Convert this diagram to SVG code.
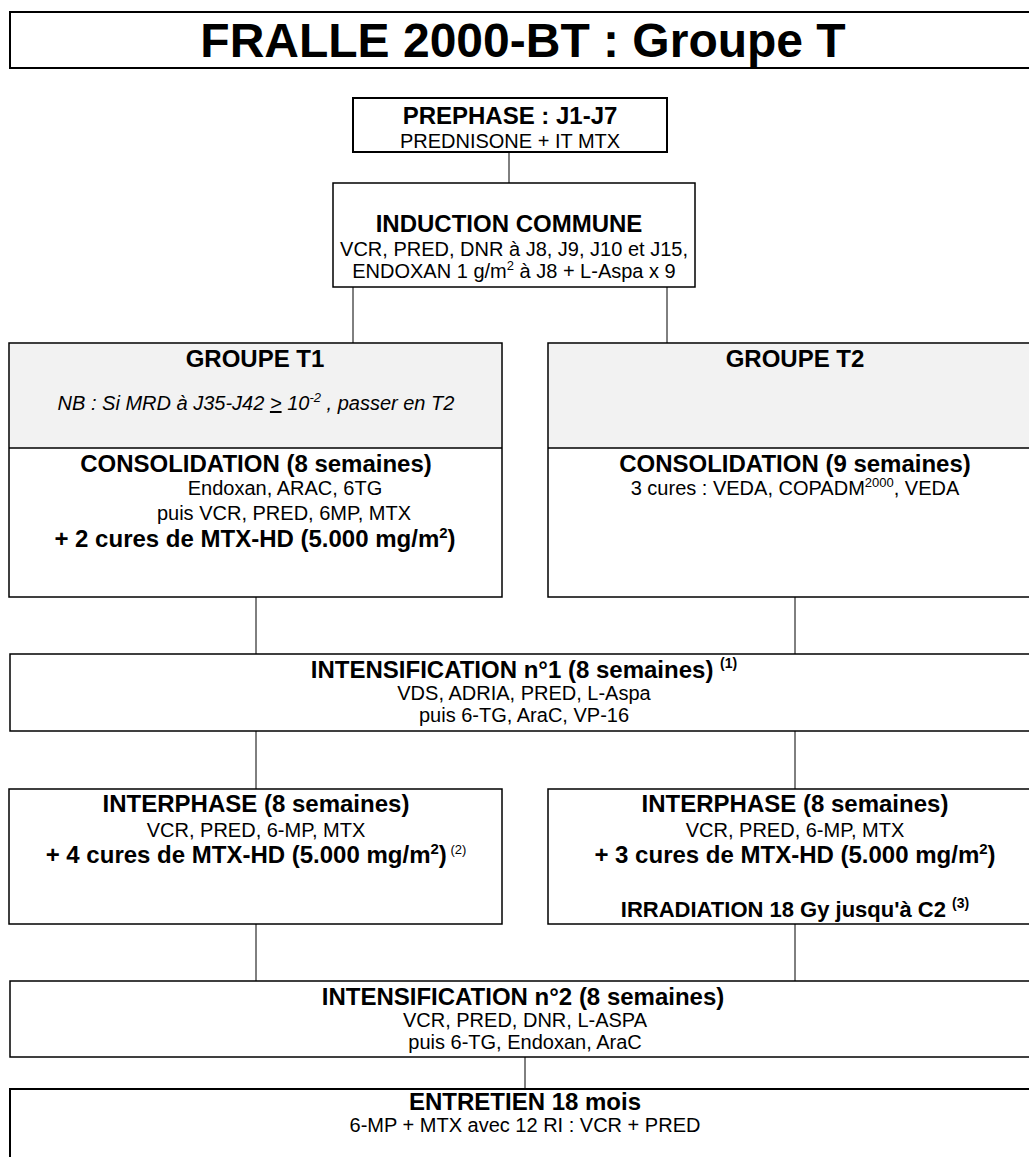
<svg xmlns="http://www.w3.org/2000/svg" width="1029" height="1157" viewBox="0 0 1029 1157">
  <style>
    text { font-family: "Liberation Sans", Arial, Helvetica, sans-serif; fill: #000; text-anchor: middle; }
    .box { fill: #fff; stroke: #000; stroke-width: 1.5; }
    .thick { stroke-width: 2; }
    .shade { fill: #f2f2f2; stroke: none; }
    .div { stroke: #000; stroke-width: 1.5; }
    .h { font-size: 24px; font-weight: bold; }
    .t { font-size: 20px; }
    .it { font-size: 20px; font-style: italic; }
    .title { font-size: 48px; font-weight: bold; }
    .conn line { stroke: #000; stroke-width: 1; }
  </style>

  <!-- connectors between phases -->
  <g id="connectors" class="conn">
    <line x1="509" y1="152" x2="509" y2="183"/>
    <line x1="353" y1="287" x2="353" y2="343"/>
    <line x1="667" y1="287" x2="667" y2="343"/>
    <line x1="256" y1="597" x2="256" y2="654"/>
    <line x1="795" y1="597" x2="795" y2="654"/>
    <line x1="256" y1="731" x2="256" y2="789"/>
    <line x1="795" y1="731" x2="795" y2="789"/>
    <line x1="256" y1="924" x2="256" y2="981"/>
    <line x1="795" y1="924" x2="795" y2="981"/>
    <line x1="525" y1="1057" x2="525" y2="1089"/>
  </g>

  <g id="title">
    <rect class="box thick" x="10" y="12" width="1030" height="56"/>
    <text class="title" x="523" y="57">FRALLE 2000-BT : Groupe T</text>
  </g>

  <g id="prephase">
    <rect class="box thick" x="353" y="98" width="314" height="54"/>
    <text class="h" x="510" y="124">PREPHASE : J1-J7</text>
    <text class="t" x="510" y="148">PREDNISONE + IT MTX</text>
  </g>

  <g id="induction">
    <rect class="box" x="333" y="183" width="362" height="104"/>
    <text class="h" x="509" y="232">INDUCTION COMMUNE</text>
    <text class="t" x="514" y="256">VCR, PRED, DNR à J8, J9, J10 et J15,</text>
    <text class="t" x="514" y="278">ENDOXAN 1 g/m<tspan font-size="13" dy="-8">2</tspan><tspan dy="8"> à J8 + L-Aspa x 9</tspan></text>
  </g>

  <g id="groupe-t1">
    <rect class="box" x="9" y="343" width="493" height="254"/>
    <rect class="shade" x="10" y="344" width="491" height="104"/>
    <line class="div" x1="9" y1="448" x2="502" y2="448"/>
    <text class="h" x="255" y="367">GROUPE T1</text>
    <text class="it" x="256" y="410">NB : Si MRD à J35-J42 <tspan text-decoration="underline">&gt;</tspan> 10<tspan font-size="13" dy="-8">-2</tspan><tspan dy="8"> , passer en T2</tspan></text>
    <text class="h" x="256" y="472">CONSOLIDATION (8 semaines)</text>
    <text class="t" x="285" y="495">Endoxan, ARAC, 6TG</text>
    <text class="t" x="284" y="520">puis VCR, PRED, 6MP, MTX</text>
    <text class="h" x="255" y="547">+ 2 cures de MTX-HD (5.000 mg/m<tspan font-size="15" dy="-9">2</tspan><tspan dy="9">)</tspan></text>
  </g>

  <g id="groupe-t2">
    <rect class="box" x="548" y="343" width="494" height="254"/>
    <rect class="shade" x="549" y="344" width="492" height="104"/>
    <line class="div" x1="548" y1="448" x2="1042" y2="448"/>
    <text class="h" x="795" y="367">GROUPE T2</text>
    <text class="h" x="795" y="472">CONSOLIDATION (9 semaines)</text>
    <text class="t" x="795" y="495">3 cures : VEDA, COPADM<tspan font-size="13" dy="-8">2000</tspan><tspan dy="8">, VEDA</tspan></text>
  </g>

  <g id="intensification-1">
    <rect class="box" x="10" y="654" width="1028" height="77"/>
    <text class="h" x="524" y="678">INTENSIFICATION n°1 (8 semaines)  <tspan font-size="14" dy="-10">(1)</tspan></text>
    <text class="t" x="524" y="700">VDS, ADRIA, PRED, L-Aspa</text>
    <text class="t" x="524" y="722">puis 6-TG, AraC, VP-16</text>
  </g>

  <g id="interphase-t1">
    <rect class="box" x="9" y="789" width="493" height="135"/>
    <text class="h" x="256" y="812">INTERPHASE (8 semaines)</text>
    <text class="t" x="256" y="837">VCR, PRED, 6-MP, MTX</text>
    <text class="h" x="256" y="863">+ 4 cures de MTX-HD (5.000 mg/m<tspan font-size="15" dy="-9">2</tspan><tspan dy="9">)</tspan><tspan font-size="13" font-weight="normal" dy="-9"> (2)</tspan></text>
  </g>

  <g id="interphase-t2">
    <rect class="box" x="548" y="789" width="494" height="135"/>
    <text class="h" x="795" y="812">INTERPHASE (8 semaines)</text>
    <text class="t" x="795" y="837">VCR, PRED, 6-MP, MTX</text>
    <text class="h" x="795" y="863">+ 3 cures de MTX-HD (5.000 mg/m<tspan font-size="15" dy="-9">2</tspan><tspan dy="9">)</tspan></text>
    <text x="795" y="917" style="font-size:22px;font-weight:bold">IRRADIATION 18 Gy jusqu'à C2 <tspan font-size="14" dy="-9">(3)</tspan></text>
  </g>

  <g id="intensification-2">
    <rect class="box" x="10" y="981" width="1028" height="76"/>
    <text class="h" x="523" y="1005">INTENSIFICATION n°2 (8 semaines)</text>
    <text class="t" x="525" y="1027">VCR, PRED, DNR, L-ASPA</text>
    <text class="t" x="525" y="1049">puis 6-TG, Endoxan, AraC</text>
  </g>

  <g id="entretien">
    <rect class="box thick" x="10" y="1089" width="1028" height="90"/>
    <text class="h" x="525" y="1110">ENTRETIEN 18 mois</text>
    <text class="t" x="525" y="1132">6-MP + MTX avec 12 RI : VCR + PRED</text>
  </g>
</svg>
